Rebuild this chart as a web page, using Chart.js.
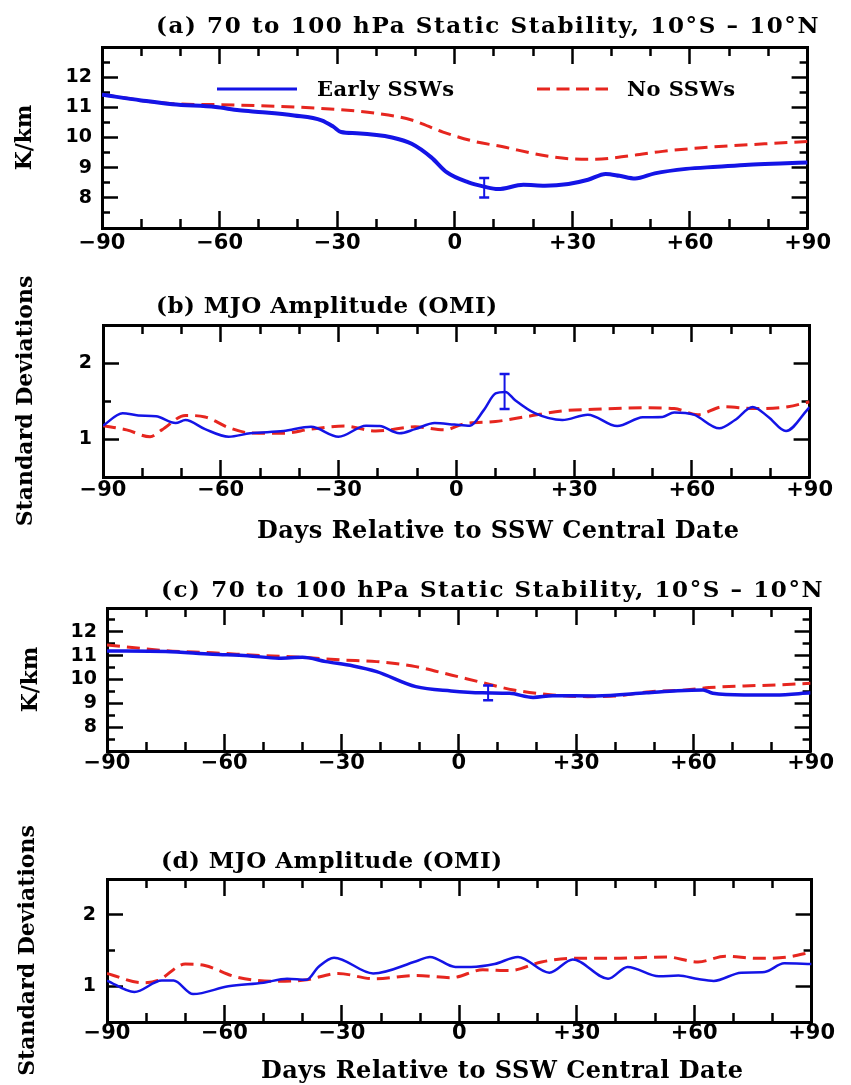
<!DOCTYPE html>
<html>
<head>
<meta charset="utf-8">
<script src="https://cdn.jsdelivr.net/npm/chart.js@4.4.1/dist/chart.umd.min.js"></script>
<style>
html,body{margin:0;padding:0;background:#fff;overflow:hidden}
#page{position:relative;width:851px;height:1085px;background:#fff}
canvas{position:absolute;left:0}
#overlay{position:absolute;left:0;top:0}
#overlay text{font-family:"DejaVu Serif";font-weight:bold;fill:#000}
</style>
</head>
<body>
<div id="page">
<canvas id="cA" width="851" height="275" style="top:0px"></canvas>
<canvas id="cB" width="851" height="300" style="top:255px"></canvas>
<canvas id="cC" width="851" height="230" style="top:560px"></canvas>
<canvas id="cD" width="851" height="270" style="top:815px"></canvas>
<svg id="overlay" width="851" height="1085" xmlns="http://www.w3.org/2000/svg">
  <text x="156" y="33" font-size="23" letter-spacing="1.6">(a) 70 to 100 hPa Static Stability, 10°S – 10°N</text>
  <line x1="217" y1="89" x2="297" y2="89" stroke="#1414e6" stroke-width="3"/>
  <text x="317" y="96" font-size="21" letter-spacing="0.4">Early SSWs</text>
  <line x1="537" y1="89" x2="608" y2="89" stroke="#e6261f" stroke-width="3" stroke-dasharray="13 6.5"/>
  <text x="627" y="96" font-size="21" letter-spacing="0.4">No SSWs</text>
  <text x="156" y="313" font-size="23" letter-spacing="0.5">(b) MJO Amplitude (OMI)</text>
  <text x="257" y="538" font-size="24" letter-spacing="0.5">Days Relative to SSW Central Date</text>
  <text x="161" y="597" font-size="23" letter-spacing="1.6">(c) 70 to 100 hPa Static Stability, 10°S – 10°N</text>
  <text x="161" y="868" font-size="23" letter-spacing="0.5">(d) MJO Amplitude (OMI)</text>
  <text x="261" y="1078" font-size="24" letter-spacing="0.5">Days Relative to SSW Central Date</text>
</svg>
</div>
<script>
// ---------- tick values and labels ----------
const xMajorTicks = [-90, -60, -30, 0, 30, 60, 90];
const xMinorTicks = [-80, -70, -50, -40, -20, -10, 10, 20, 40, 50, 70, 80];
const xTickLabels = ['\u221290', '\u221260', '\u221230', '0', '+30', '+60', '+90'];
const ssYMajorTicks = [8, 9, 10, 11, 12];
const ssYMinorTicks = [7.5, 8.5, 9.5, 10.5, 11.5, 12.5];
const ssYTickLabels = ['8', '9', '10', '11', '12'];
const mjoYMajorTicks = [1, 2];
const mjoYMinorTicks = [1.5];
const mjoYTickLabels = ['1', '2'];

// ---------- panel (a): 70-100 hPa static stability ----------
const aEarlyDays = [-90, -80, -72, -61, -55, -49, -41, -34, -31, -29, -25, -16, -11, -6, -2, 3.5, 7.5, 11, 17.5, 23, 29, 34, 38.5, 42, 46, 51, 59, 67, 75, 83, 90];
const aEarlyVals = [11.42, 11.23, 11.1, 11.01, 10.9, 10.84, 10.73, 10.57, 10.36, 10.18, 10.14, 10.0, 9.79, 9.34, 8.84, 8.51, 8.37, 8.29, 8.43, 8.4, 8.46, 8.6, 8.79, 8.73, 8.64, 8.81, 8.96, 9.03, 9.1, 9.14, 9.17];
const aNoDays = [-90, -72, -61, -41, -29, -20, -11, -3, 5, 12, 22, 30, 36, 45, 53, 63, 71, 79, 90];
const aNoVals = [11.42, 11.12, 11.09, 11.01, 10.92, 10.8, 10.58, 10.18, 9.87, 9.7, 9.42, 9.29, 9.28, 9.4, 9.54, 9.66, 9.73, 9.79, 9.87];
const aErrDay = 7.5;
const aErrRange = [8.01, 8.66];

// ---------- panel (b): MJO amplitude ----------
const bEarlyDays = [-90, -85, -81, -76.5, -71.5, -69, -64, -58, -52.5, -44, -37, -30, -23, -19.5, -14.5, -10.5, -5.5, -0.5, 3.5, 7, 10, 12.5, 15, 20, 27, 33.5, 41, 47.5, 52.5, 55.5, 60.5, 67, 71, 75.5, 79.5, 84, 89.5, 90];
const bEarlyVals = [1.175, 1.34, 1.31, 1.30, 1.21, 1.25, 1.13, 1.03, 1.075, 1.105, 1.16, 1.03, 1.175, 1.17, 1.075, 1.13, 1.21, 1.19, 1.175, 1.38, 1.60, 1.62, 1.51, 1.34, 1.25, 1.32, 1.17, 1.285, 1.29, 1.35, 1.32, 1.14, 1.25, 1.42, 1.29, 1.105, 1.39, 1.42];
const bNoDays = [-90, -84, -78, -75, -69, -64, -58, -52.5, -44, -37, -28.5, -20.5, -10.5, -3, 2, 10, 18.5, 27, 35, 47.5, 55.5, 61.5, 68, 76, 84.5, 90];
const bNoVals = [1.175, 1.12, 1.03, 1.12, 1.31, 1.29, 1.15, 1.08, 1.075, 1.13, 1.17, 1.105, 1.16, 1.12, 1.20, 1.23, 1.30, 1.37, 1.39, 1.41, 1.40, 1.32, 1.425, 1.40, 1.425, 1.49];
const bErrDay = 12.3;
const bErrRange = [1.395, 1.855];

// ---------- panel (c): 70-100 hPa static stability ----------
const cEarlyDays = [-90, -75, -63, -54, -46, -40, -34, -27, -21, -11, -2, 6, 13, 19, 24, 35, 48, 56, 62.5, 65, 73, 81, 90];
const cEarlyVals = [11.2, 11.17, 11.06, 11.0, 10.89, 10.93, 10.75, 10.57, 10.33, 9.7, 9.52, 9.44, 9.42, 9.25, 9.32, 9.31, 9.44, 9.53, 9.56, 9.42, 9.35, 9.35, 9.44];
const cNoDays = [-90, -75, -63, -50, -40, -30, -21, -11, -2, 6, 14, 24, 33, 41, 49, 58, 64, 73, 81, 90];
const cNoVals = [11.45, 11.21, 11.12, 11.0, 10.93, 10.82, 10.75, 10.54, 10.19, 9.87, 9.56, 9.35, 9.28, 9.32, 9.49, 9.56, 9.66, 9.73, 9.77, 9.84];
const cErrDay = 7.5;
const cErrRange = [9.125, 9.75];

// ---------- panel (d): MJO amplitude ----------
const dEarlyDays = [-90, -83, -76, -73, -68, -59, -50, -44, -39, -36, -32, -22, -11, -7.5, -1, 3, 9, 15, 23, 29, 38, 43, 51, 56, 61, 65, 72, 78, 83, 90];
const dEarlyVals = [1.08, 0.92, 1.08, 1.08, 0.89, 1.0, 1.05, 1.105, 1.09, 1.27, 1.40, 1.18, 1.35, 1.41, 1.27, 1.27, 1.31, 1.41, 1.19, 1.375, 1.105, 1.27, 1.14, 1.15, 1.10, 1.075, 1.19, 1.20, 1.32, 1.31];
const dNoDays = [-90, -81, -77, -70, -65, -57, -47, -39, -31, -22, -11, -2, 6, 13, 21, 29, 39, 53, 61, 68, 76, 84, 90];
const dNoVals = [1.18, 1.05, 1.08, 1.31, 1.29, 1.13, 1.07, 1.09, 1.18, 1.105, 1.15, 1.12, 1.23, 1.22, 1.34, 1.39, 1.39, 1.41, 1.34, 1.42, 1.39, 1.41, 1.48];

const seriesNames = ['Early SSWs', 'No SSWs'];
const BLUE = '#1414e6';
const RED = '#e6261f';

function zip(xs, ys) { return xs.map((x, i) => ({x: x, y: ys[i]})); }

function scale(position, min, max, tickValues, tickLen, weight, size, labelCfg, titleCfg) {
  const s = {
    type: 'linear', position: position, min: min, max: max, display: true, weight: weight,
    afterBuildTicks: (sc) => { sc.ticks = tickValues.map(v => ({value: v})); },
    afterFit: (sc) => { if (sc.isHorizontal()) { sc.height = size; } else { sc.width = size; } },
    grid: {drawOnChartArea: false, drawTicks: true, tickLength: -tickLen, tickWidth: 2.5, tickColor: '#000'},
    border: {display: true, width: 3, color: '#000'},
    ticks: {display: false}
  };
  if (labelCfg) {
    s.ticks = {display: true, autoSkip: false, maxRotation: 0, minRotation: 0, padding: labelCfg.pad,
      color: '#000', font: labelCfg.font, callback: (v, i) => labelCfg.labels[i]};
  }
  if (titleCfg) {
    s.title = {display: true, text: titleCfg.text, color: '#000',
      font: {family: 'DejaVu Serif', size: 22, weight: 'bold'}, padding: {top: titleCfg.pad, bottom: 0}};
  }
  return s;
}

function makePanel(id, p) {
  const datasets = [
    {label: seriesNames[0], data: zip(p.earlyDays, p.earlyVals), borderColor: BLUE, borderWidth: p.blueWidth,
     pointRadius: 0, cubicInterpolationMode: 'monotone', fill: false, order: 2},
    {label: seriesNames[1], data: zip(p.noDays, p.noVals), borderColor: RED, borderWidth: 3, borderDash: [13, 7],
     pointRadius: 0, cubicInterpolationMode: 'monotone', fill: false, order: 3}
  ];
  if (p.errDay !== undefined) {
    datasets.push({label: seriesNames[0] + ' error bar', data: [{x: p.errDay, y: p.errRange[0]}, {x: p.errDay, y: p.errRange[1]}],
      borderColor: BLUE, borderWidth: 2, pointStyle: 'line', pointRadius: 5, pointBorderWidth: 2.5,
      pointBorderColor: BLUE, order: 1});
  }
  const xFont = {family: 'DejaVu Sans', size: 21, weight: 'bold'};
  const yFont = {family: 'DejaVu Sans', size: 19, weight: 'bold'};
  return new Chart(document.getElementById(id), {
    type: 'line',
    data: {datasets: datasets},
    options: {
      responsive: false, animation: false, events: [],
      layout: {padding: p.padding},
      plugins: {legend: {display: false}, tooltip: {enabled: false}, title: {display: false}},
      scales: {
        x: scale('bottom', -90, 90, xMajorTicks, 17, 1, p.xSize, {labels: xTickLabels, font: xFont, pad: p.xPad}),
        xMinor: scale('bottom', -90, 90, xMinorTicks, 9, 0, 0),
        xTop: scale('top', -90, 90, xMajorTicks, 17, 1, 0),
        xTopMinor: scale('top', -90, 90, xMinorTicks, 9, 0, 0),
        y: scale('left', p.yMin, p.yMax, p.yMajor, 16, 1, p.ySize, {labels: p.yLabels, font: yFont, pad: p.yPad}, {text: p.yTitle, pad: p.yTitlePad}),
        yMinor: scale('left', p.yMin, p.yMax, p.yMinor, 8, 0, 0),
        yRight: scale('right', p.yMin, p.yMax, p.yMajor, 16, 1, 0),
        yRightMinor: scale('right', p.yMin, p.yMax, p.yMinor, 8, 0, 0)
      }
    }
  });
}

makePanel('cA', {
  earlyDays: aEarlyDays, earlyVals: aEarlyVals, noDays: aNoDays, noVals: aNoVals, errDay: aErrDay, errRange: aErrRange,
  blueWidth: 4, yMin: 7, yMax: 13, yMajor: ssYMajorTicks, yMinor: ssYMinorTicks, yLabels: ssYTickLabels,
  yTitle: 'K/km', yTitlePad: 12, padding: {left: 0, top: 47, right: 21, bottom: 7},
  xSize: 40, ySize: 102, xPad: 20, yPad: 26
});
makePanel('cB', {
  earlyDays: bEarlyDays, earlyVals: bEarlyVals, noDays: bNoDays, noVals: bNoVals, errDay: bErrDay, errRange: bErrRange,
  blueWidth: 2.5, yMin: 0.5, yMax: 2.5, yMajor: mjoYMajorTicks, yMinor: mjoYMinorTicks, yLabels: mjoYTickLabels,
  yTitle: 'Standard Deviations', yTitlePad: 13, padding: {left: 0, top: 70, right: 21, bottom: 38},
  xSize: 40, ySize: 103, xPad: 18, yPad: 27
});
makePanel('cC', {
  earlyDays: cEarlyDays, earlyVals: cEarlyVals, noDays: cNoDays, noVals: cNoVals, errDay: cErrDay, errRange: cErrRange,
  blueWidth: 3.5, yMin: 7, yMax: 13, yMajor: ssYMajorTicks, yMinor: ssYMinorTicks, yLabels: ssYTickLabels,
  yTitle: 'K/km', yTitlePad: 18, padding: {left: 0, top: 48, right: 23, bottom: 4},
  xSize: 35, ySize: 107, xPad: 17, yPad: 26
});
makePanel('cD', {
  earlyDays: dEarlyDays, earlyVals: dEarlyVals, noDays: dNoDays, noVals: dNoVals,
  blueWidth: 2.5, yMin: 0.5, yMax: 2.5, yMajor: mjoYMajorTicks, yMinor: mjoYMinorTicks, yLabels: mjoYTickLabels,
  yTitle: 'Standard Deviations', yTitlePad: 15, padding: {left: 0, top: 64, right: 23, bottom: 23},
  xSize: 40, ySize: 107, xPad: 16, yPad: 27
});
</script>
</body>
</html>
